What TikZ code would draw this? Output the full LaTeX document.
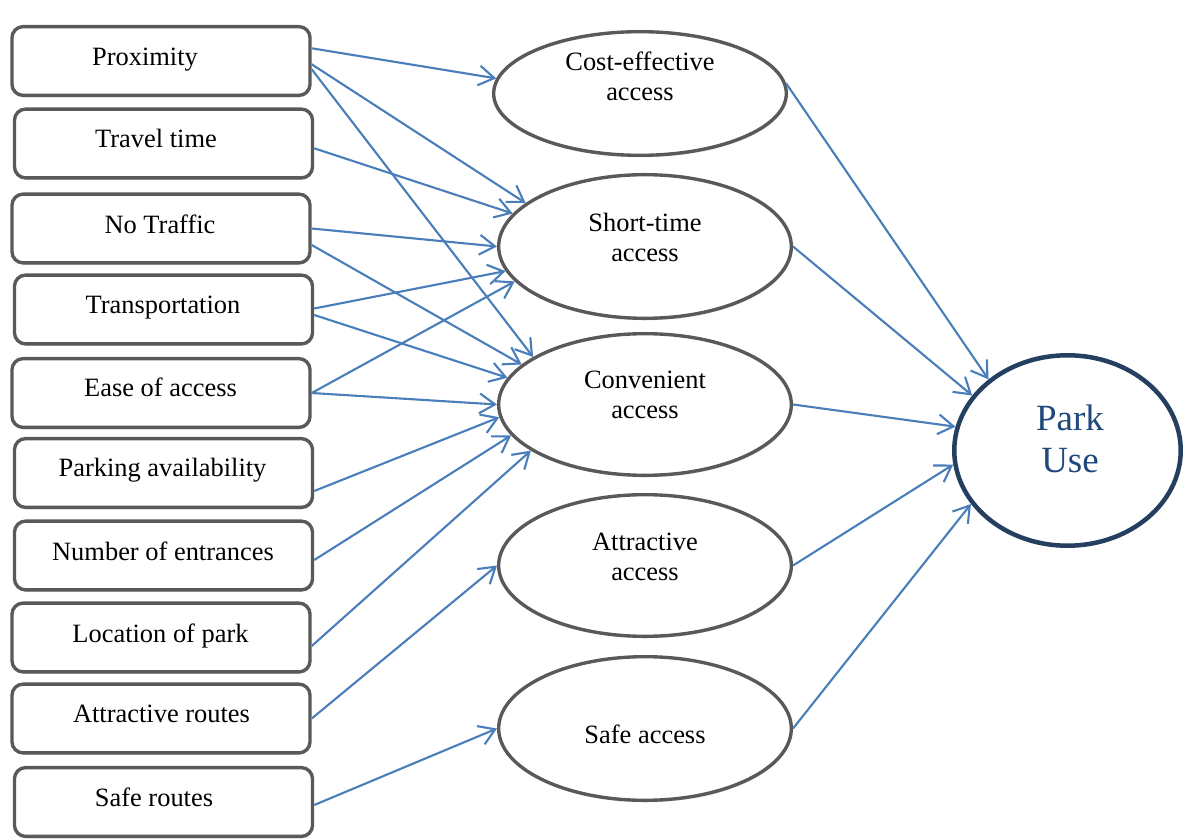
\documentclass[tikz,border=0pt]{standalone}
\usepackage{fontspec}
\setmainfont{Liberation Serif}
\usepackage{tikz}
\usetikzlibrary{arrows.meta,shapes,shadows,calc}

\definecolor{boxgray}{HTML}{595959}
\definecolor{linkblue}{HTML}{4A7EBB}
\definecolor{parkline}{HTML}{243F60}
\definecolor{parktext}{HTML}{1F497D}

\begin{document}
\begin{tikzpicture}[x=0.025cm,y=-0.025cm,>={Straight Barb[length=11pt,width=14pt]}]
            \tikzstyle{factor}=[rectangle,draw=boxgray,line width=2.4pt,rounded corners=0.28cm,fill=white,
                minimum width=7.45cm,minimum height=1.72cm,inner sep=0pt,
                drop shadow={opacity=0.25,shadow xshift=0.6pt,shadow yshift=-1.4pt}]
            \tikzstyle{access}=[ellipse,draw=boxgray,line width=2.4pt,fill=white,minimum width=7.315cm,inner sep=0pt,
                drop shadow={opacity=0.25,shadow xshift=0.6pt,shadow yshift=-1.4pt}]
            \tikzstyle{txt}=[font=\fontsize{18.8}{21.3}\selectfont,align=center,text height=12.4pt,text depth=0pt,inner sep=0pt]
            \tikzstyle{link}=[->,draw=linkblue,line width=1.5pt]

            \useasboundingbox (0,0) rectangle (1184,840);

            % factors
            \node[factor] (prox) at (161,61) {};
            \node[factor] (travel) at (163.5,143.5) {};
            \node[factor] (traffic) at (161,228.5) {};
            \node[factor] (transp) at (163.5,309.5) {};
            \node[factor] (ease) at (161,393) {};
            \node[factor] (parking) at (163.5,473) {};
            \node[factor] (entr) at (163.5,555.5) {};
            \node[factor] (loc) at (161,637.5) {};
            \node[factor] (routes-a) at (161,718.5) {};
            \node[factor] (routes-s) at (163.5,802) {};

            \node[txt] (prox-t) at (145,57) {Proximity};
            \node[txt] (travel-t) at (156,139) {Travel time};
            \node[txt] (traffic-t) at (160,225) {No Traffic};
            \node[txt] (transp-t) at (163,305) {Transportation};
            \node[txt] (ease-t) at (160.5,388) {Ease of access};
            \node[txt] (parking-t) at (162.5,468) {Parking availability};
            \node[txt] (entr-t) at (163,552) {Number of entrances};
            \node[txt] (loc-t) at (160.5,634) {Location of park};
            \node[txt] (routes-a-t) at (161.5,714) {Attractive routes};
            \node[txt] (routes-s-t) at (154,798) {Safe routes};

            % access types
            \node[access,minimum height=3.09cm] (cost) at (640,93.5) {};
            \node[access,minimum height=3.59cm] (short) at (645,246.5) {};
            \node[access,minimum height=3.54cm] (conv) at (645,404.5) {};
            \node[access,minimum height=3.54cm] (attr) at (645,565.5) {};
            \node[access,minimum height=3.59cm] (safe) at (645,728.5) {};

            \node[txt] (cost-t) at (640,92) {Cost-effective\\access};
            \node[txt] (short-t) at (645,253) {Short-time\\access};
            \node[txt] (conv-t) at (645,410) {Convenient\\access};
            \node[txt] (attr-t) at (645,572) {Attractive\\access};
            \node[txt] (safe-t) at (645,735) {Safe access};

            % outcome
            \node[ellipse,draw=parkline,line width=3.2pt,fill=white,minimum width=5.66cm,minimum height=4.76cm,inner sep=0pt] (park) at (1067.5,450.5) {};
            \node[txt,font=\fontsize{26.3}{29.8}\selectfont,text height=17.4pt,text=parktext] (park-t) at (1070,460) {Park\\Use};

            \draw[link] ($(prox.east)+(0,-12.7)$) -- (cost.174.8);
            \draw[link] ($(prox.east)+(0,3.3)$) -- (short.160.8);
            \draw[link] ($(prox.east)+(0,8.3)$) -- (conv.157.2);
            \draw[link] ($(travel.east)+(0,4.8)$) -- (short.166.4);
            \draw[link] (traffic.east) -- (short.180);
            \draw[link] ($(traffic.east)+(0,16.5)$) -- (conv.162.7);
            \draw[link] ($(transp.east)+(0,-1)$) -- (short.190.8);
            \draw[link] ($(transp.east)+(0,5.5)$) -- (conv.169.3);
            \draw[link] (ease.east) -- (short.195.5);
            \draw[link] (ease.east) -- (conv.180);
            \draw[link] ($(parking.east)+(0,18)$) -- (conv.185.3);
            \draw[link] ($(entr.east)+(0,4.5)$) -- (conv.193.7);
            \draw[link] ($(loc.east)+(0,8.5)$) -- (conv.202.7);
            \draw[link] (routes-a.east) -- (attr.180);
            \draw[link] ($(routes-s.east)+(0,3)$) -- (safe.180);

            \draw[link] (cost.4) -- (park.138.4);
            \draw[link] (short.0) -- (park.150.3);
            \draw[link] (conv.0) -- (park.168.4);
            \draw[link] (attr.0) -- (park.187.1);
            \draw[link] (safe.0) -- (park.209.7);
        \end{tikzpicture}
\end{document}
